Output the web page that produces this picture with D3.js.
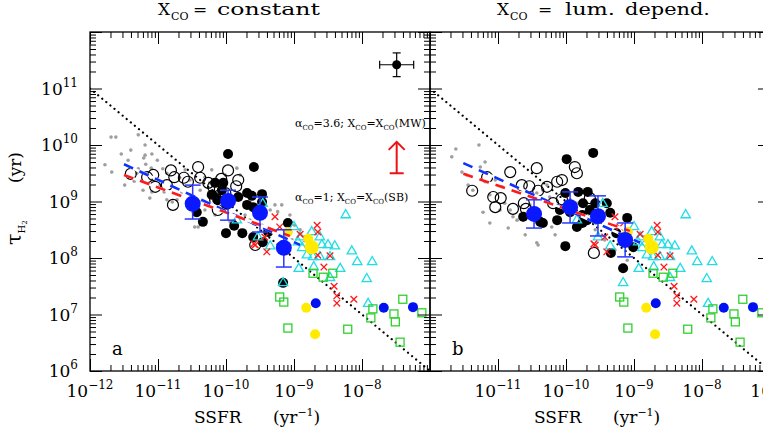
<!DOCTYPE html>
<html lang="en">
<head>
<meta charset="utf-8">
<title>tau H2 vs SSFR</title>
<style>
  body { margin: 0; background: #fff; }
  svg { display: block; font-family: "DejaVu Serif", "Liberation Serif", serif; }
  .tick line { stroke: #000; stroke-width: 1px; }
</style>
</head>
<body>
<script src="https://cdnjs.cloudflare.com/ajax/libs/d3/7.8.5/d3.min.js"></script>
<script>
// all values are [log10 SSFR (yr^-1), log10 tau_H2 (yr)]

var xTickExp = [-12, -11, -10, -9, -8, -7];
var yTickExp = [6, 7, 8, 9, 10, 11];

// tau = 0.1 / SSFR
var dottedLine = [[-12, 11.0], [-7, 6.0]];

// --- panel a : X_CO = constant
var grayA = [[-11.69,10.14],[-11.62,10.14],[-11.29,10.18],[-11.40,9.91],[-11.54,9.84],[-11.19,9.82],[-11.21,9.77],
  [-11.09,9.84],[-11.01,9.73],[-11.18,9.66],[-11.35,9.36],[-11.29,9.58],[-10.93,9.58],[-10.87,9.50],[-10.68,9.42],
  [-11.12,9.06],[-11.09,9.17],[-10.91,9.17],[-10.65,9.17],[-10.79,8.99],[-10.72,9.03],[-10.31,9.43],[-10.24,9.33],
  [-10.35,8.99],[-9.84,9.59],[-9.94,8.64],[-9.87,8.58],[-9.47,8.58],[-9.46,8.76],[-9.35,8.85],[-9.28,8.94],
  [-10.46,8.76],[-11.19,10.0],[-11.10,9.59],[-11.31,9.50],[-11.22,9.20],[-10.87,9.03],[-10.46,8.55],[-10.41,8.55],
  [-9.79,9.47],[-10.16,8.76],[-10.09,8.85],[-9.72,8.76],[-9.65,8.67],[-9.57,8.85],[-9.24,8.82],[-9.18,8.94],
  [-9.06,8.76],[-8.99,8.58],[-8.91,8.50],[-11.78,9.65],[-11.68,9.52],[-11.49,9.29],[-11.44,9.73],[-10.97,9.29],
  [-10.60,9.56],[-10.53,9.38],[-10.38,9.20],[-10.21,9.56],[-10.01,9.47],[-10.31,8.85],[-9.13,8.39],[-9.03,8.32],
  [-9.06,8.23]];
var openA = [[-11.40,9.49],[-11.16,9.43],[-11.07,9.47],[-11.04,9.26],[-10.87,9.29],[-10.81,9.55],[-10.76,9.43],
  [-10.62,9.42],[-10.56,9.35],[-10.41,9.61],[-10.38,9.42],[-10.26,9.33],[-10.19,9.26],[-10.07,9.40],[-10.09,9.22],
  [-9.82,9.38],[-9.85,9.27],[-10.78,8.94],[-10.12,8.85],[-10.16,9.03],[-10.01,9.15],[-9.97,9.55],
  [-9.57,8.23]];
var filledA = [[-9.97,9.84],[-9.59,9.61],[-10.16,9.33],[-10.04,9.33],[-10.21,9.12],[-10.13,9.03],[-10.06,9.20],
  [-9.94,9.03],[-9.82,9.08],[-9.69,9.15],[-9.62,9.10],[-9.47,9.13],[-9.69,8.94],[-9.60,8.90],[-9.47,8.99],
  [-9.99,8.94],[-10.43,8.81],[-10.34,8.64],[-10.00,8.44],[-9.88,8.57],[-9.76,8.44],[-9.60,8.37],[-9.38,8.46],
  [-9.09,8.62],[-9.46,8.28],[-9.16,7.56]];
// binned means: [x, y, yLow, yHigh]
var binsA = [[-10.49,8.96,8.69,9.29],[-9.97,9.01,8.67,9.20],[-9.50,8.80,8.46,9.08],[-9.15,8.18,7.84,8.50]];
var blueFitA = [[-11.5,9.66],[-8.91,8.23]];
var redFitA = [[-11.5,9.47],[-9.06,8.39]];

// --- panel b : X_CO luminosity dependent
var grayB = [[-11.68,9.79],[-11.62,9.93],[-11.28,10.00],[-11.19,9.70],[-11.26,9.61],[-11.53,9.52],[-11.46,9.47],
  [-11.19,9.35],[-11.04,9.38],[-10.94,9.26],[-11.22,8.81],[-11.12,8.62],[-10.90,8.97],[-10.82,8.85],[-10.78,8.73],
  [-10.72,8.67],[-10.85,8.53],[-10.63,8.67],[-10.43,8.27],[-10.41,8.23],[-10.43,9.15],[-10.34,9.20],[-10.28,9.29],
  [-10.24,9.08],[-10.21,8.55],[-10.13,8.67],[-9.94,9.03],[-9.84,8.97],[-9.10,7.96],[-9.28,8.14],[-11.44,9.29],
  [-11.37,9.20],[-11.12,9.12],[-10.53,8.94],[-10.16,8.41],[-10.01,8.85],[-9.72,8.58],[-9.57,8.50],[-9.43,8.32],
  [-9.21,8.41],[-10.60,8.41],[-10.97,8.85]];
var openB = [[-11.38,9.19],[-11.16,9.43],[-11.07,9.08],[-10.96,9.06],[-11.04,8.90],[-10.82,9.52],[-10.65,9.29],
  [-10.78,8.87],[-10.62,8.97],[-10.54,9.27],[-10.43,9.59],[-10.41,9.19],[-10.28,9.26],[-10.13,9.35],[-10.06,9.38],
  [-9.87,9.61],[-9.84,9.50],[-10.19,8.97],[-10.06,9.04],[-9.59,8.09],[-9.65,9.06],[-10.59,8.87]];
var filledB = [[-9.99,9.75],[-9.60,9.86],[-10.63,8.73],[-10.34,8.62],[-10.01,8.21],[-9.82,9.17],[-9.68,9.17],
  [-9.94,8.81],[-9.84,8.55],[-9.69,8.67],[-9.65,8.85],[-10.09,8.85],[-10.13,8.67],[-10.01,9.15],[-9.76,8.76],
  [-9.57,8.97],[-9.75,8.97],[-9.76,8.62],[-9.53,8.67],[-9.40,8.97],[-9.35,8.80],[-9.10,8.71],[-9.26,8.44],
  [-9.34,8.09],[-9.01,8.19],[-9.16,7.82],[-10.38,8.64]];
var binsB = [[-10.47,8.78,8.53,9.03],[-9.94,8.90,8.62,9.17],[-9.53,8.74,8.39,9.10],[-9.13,8.32,8.02,8.62]];
var blueFitB = [[-11.51,9.68],[-8.91,8.27]];
var redFitB = [[-11.51,9.49],[-9.06,8.48]];

// --- high-SSFR samples (same in both panels)
var cyanTri = [[-9.46,8.96],[-8.24,8.76],[-8.74,8.46],[-8.62,8.37],[-8.50,8.23],[-8.40,8.21],[-8.59,8.23],
  [-8.91,8.37],[-8.94,8.28],[-8.88,8.18],[-8.81,8.05],[-8.72,8.02],[-8.62,8.02],[-8.47,8.02],[-8.15,8.12],
  [-8.07,7.93],[-7.85,7.93],[-7.93,7.63],[-8.93,7.81],[-8.71,7.84],[-8.32,7.81],[-8.47,7.65],[-9.16,7.56],
  [-7.91,7.19],[-9.35,8.21],[-9.84,8.67],[-9.53,8.37],[-9.00,8.55]];
var redCross = [[-9.28,8.73],[-9.21,8.55],[-8.91,8.42],[-8.66,8.58],[-8.65,8.46],[-8.81,8.34],[-8.65,8.05],
  [-8.47,8.04],[-8.56,7.84],[-8.41,7.50],[-8.37,7.33],[-8.37,7.20],[-8.12,7.27],[-9.59,8.25],[-9.40,8.11],
  [-9.43,8.37],[-9.57,8.23]];
var greenSq = [[-9.21,7.31],[-9.15,7.22],[-9.09,6.76],[-8.72,7.73],[-8.57,7.66],[-8.43,7.73],[-8.21,6.74],
  [-7.84,7.10],[-7.87,6.94],[-7.40,7.27],[-7.53,7.01],[-7.51,6.87],[-7.44,6.51],[-7.12,7.03]];
var yellowPts = [[-9.09,8.46],[-8.79,8.34],[-8.74,8.19],[-8.82,7.12],[-8.69,6.65]];
var yellowSize = [5, 5, 7, 5, 5];
var blueSmall = [[-8.68,7.20],[-7.68,7.12],[-7.25,7.13]];

// typical error bar: [x, y, dx, dy]
var refPoint = [-7.49, 11.42, 0.25, 0.21];
// alpha_CO arrow: [x, yBase, yTip]
var alphaArrow = [-7.49, 9.50, 10.056];

var W = 763, H = 430, PW = 340;
var svg = d3.select("body").append("svg").attr("width", W).attr("height", H);
var y = d3.scaleLog().domain([1e6, 1e12]).range([371, 32]);
var P = function(v) { return Math.pow(10, v); };

function minors(exps) {
    var out = [];
    exps.forEach(function(e) { for (var k = 2; k <= 9; k++) out.push(k * P(e)); });
    return out;
}

function ticks(axis, scale, vals, size, tr) {
    svg.append("g").attr("transform", tr)
        .call(axis(scale).tickValues(vals).tickSize(size).tickFormat(""))
        .call(function(s) { s.select(".domain").remove(); });
}

function powLabel(t, exp) {
    t.append("tspan").text("10");
    t.append("tspan").attr("dy", -8).attr("font-size", 12).text(exp);
}

function drawPanel(x0, d) {
    var x = d3.scaleLog().domain([1e-12, 1e-7]).range([x0, x0 + PW]);
    var X = function(v) { return x(P(v)); }, Y = function(v) { return y(P(v)); };
    var id = "clip" + x0;
    svg.append("clipPath").attr("id", id).append("rect")
        .attr("x", x0).attr("y", 32).attr("width", PW).attr("height", 339);
    var g = svg.append("g").attr("clip-path", "url(#" + id + ")");
    var line = d3.line().x(function(p) { return X(p[0]); }).y(function(p) { return Y(p[1]); });

    g.append("path").datum(dottedLine).attr("d", line)
        .attr("fill", "none").attr("stroke", "#000").attr("stroke-width", 2.2)
        .attr("stroke-linecap", "round").attr("stroke-dasharray", "0.1 5.2");

    g.append("g").selectAll("circle").data(d.gray).join("circle")
        .attr("cx", p => X(p[0])).attr("cy", p => Y(p[1])).attr("r", 1.8).attr("fill", "#9e9e9e");
    g.append("g").selectAll("circle").data(d.open).join("circle")
        .attr("cx", p => X(p[0])).attr("cy", p => Y(p[1])).attr("r", 5.5)
        .attr("fill", "none").attr("stroke", "#000").attr("stroke-width", 1.2);
    g.append("g").selectAll("circle").data(d.filled).join("circle")
        .attr("cx", p => X(p[0])).attr("cy", p => Y(p[1])).attr("r", 5).attr("fill", "#000");

    var tri = d3.symbol().type(d3.symbolTriangle).size(38);
    g.append("g").selectAll("path").data(cyanTri).join("path")
        .attr("d", tri).attr("transform", p => "translate(" + X(p[0]) + "," + Y(p[1]) + ")")
        .attr("fill", "none").attr("stroke", "#1fdde6").attr("stroke-width", 1.3);
    g.append("g").selectAll("path").data(redCross).join("path")
        .attr("d", "M-3.3,-3.3L3.3,3.3M-3.3,3.3L3.3,-3.3")
        .attr("transform", p => "translate(" + X(p[0]) + "," + Y(p[1]) + ")")
        .attr("stroke", "#ff1a1a").attr("stroke-width", 1.3);
    g.append("g").selectAll("rect").data(greenSq).join("rect")
        .attr("x", p => X(p[0]) - 4).attr("y", p => Y(p[1]) - 4).attr("width", 8).attr("height", 8)
        .attr("fill", "none").attr("stroke", "#2fd02f").attr("stroke-width", 1.3);
    g.append("g").selectAll("circle").data(yellowPts).join("circle")
        .attr("cx", p => X(p[0])).attr("cy", p => Y(p[1])).attr("r", (p, i) => yellowSize[i]).attr("fill", "#ffea00");
    g.append("g").selectAll("circle").data(blueSmall).join("circle")
        .attr("cx", p => X(p[0])).attr("cy", p => Y(p[1])).attr("r", 5).attr("fill", "#0010f0");

    // fits: white under-stroke then dashes
    [[d.blueFit, "#1030ff"], [d.redFit, "#ff1a1a"]].forEach(function(f) {
        g.append("path").datum(f[0]).attr("d", line).attr("fill", "none")
            .attr("stroke", "#fff").attr("stroke-width", 2.6);
        g.append("path").datum(f[0]).attr("d", line).attr("fill", "none")
            .attr("stroke", f[1]).attr("stroke-width", 2.6).attr("stroke-dasharray", "10 7");
    });

    // binned means with error bars
    var bg = g.append("g").attr("stroke", "#2838ff").attr("stroke-width", 1.5);
    d.bins.forEach(function(b) {
        var cx = X(b[0]);
        bg.append("line").attr("x1", cx).attr("x2", cx).attr("y1", Y(b[2])).attr("y2", Y(b[3]));
        [b[2], b[3]].forEach(function(v) {
            bg.append("line").attr("x1", cx - 8).attr("x2", cx + 8).attr("y1", Y(v)).attr("y2", Y(v));
        });
    });
    g.append("g").selectAll("circle").data(d.bins).join("circle")
        .attr("cx", b => X(b[0])).attr("cy", b => Y(b[1])).attr("r", 8).attr("fill", "#0a18ff");

    // frame and ticks
    svg.append("rect").attr("x", x0).attr("y", 32).attr("width", PW).attr("height", 339)
        .attr("fill", "none").attr("stroke", "#000").attr("stroke-width", 1.3);
    var xMaj = xTickExp.map(P), xMin = minors(xTickExp.slice(0, 5));
    var yMaj = yTickExp.map(P).concat([1e12]), yMin = minors(yTickExp);
    ticks(d3.axisBottom, x, xMaj, -12, "translate(0,371)");
    ticks(d3.axisBottom, x, xMin, -6, "translate(0,371)");
    ticks(d3.axisTop, x, xMaj, -12, "translate(0,32)");
    ticks(d3.axisTop, x, xMin, -6, "translate(0,32)");
    ticks(d3.axisLeft, y, yMaj, -12, "translate(" + x0 + ",0)");
    ticks(d3.axisLeft, y, yMin, -6, "translate(" + x0 + ",0)");
    ticks(d3.axisRight, y, yMaj, -12, "translate(" + (x0 + PW) + ",0)");
    ticks(d3.axisRight, y, yMin, -6, "translate(" + (x0 + PW) + ",0)");

    // x tick labels
    d.xLabels.forEach(function(e) {
        var t = svg.append("text").attr("x", X(e)).attr("y", 397).attr("font-size", 17)
            .attr("text-anchor", "middle");
        powLabel(t, String(e).replace("-", "\u2212"));
    });

    // x axis title
    svg.append("text").attr("x", x0 + 104).attr("y", 423).attr("font-size", 17).text("SSFR");
    var xt = svg.append("text").attr("x", x0 + 183).attr("y", 423).attr("font-size", 17);
    xt.append("tspan").text("(yr");
    xt.append("tspan").attr("dy", -7).attr("font-size", 11).text("\u22121");
    xt.append("tspan").attr("dy", 7).text(")");

    // panel letter
    svg.append("text").attr("x", x0 + 22).attr("y", 355).attr("font-size", 18).text(d.letter);

    // title
    var tt = svg.append("text").attr("y", 15).attr("font-size", 17);
    tt.append("tspan").attr("x", d.title[0]).text("X");
    tt.append("tspan").attr("x", d.title[0] + 13).attr("dy", 5).attr("font-size", 11).text("CO");
    tt.append("tspan").attr("x", d.title[1]).attr("dy", -5).text("=");
    d.title[2].forEach(function(w) {
        svg.append("text").attr("x", w[0]).attr("y", 15).attr("font-size", 17)
            .attr("textLength", w[2]).attr("lengthAdjust", "spacingAndGlyphs").text(w[1]);
    });
    return { X: X, Y: Y };
}

var pa = drawPanel(90, {
    gray: grayA, open: openA, filled: filledA, bins: binsA, blueFit: blueFitA, redFit: redFitA,
    xLabels: [-12, -11, -10, -9, -8], letter: "a",
    title: [158, 193, [[217, "constant", 103]]]
});
drawPanel(430, {
    gray: grayB, open: openB, filled: filledB, bins: binsB, blueFit: blueFitB, redFit: redFitB,
    xLabels: [-11, -10, -9, -8, -7], letter: "b",
    title: [497, 538, [[565, "lum.", 50], [625, "depend.", 85]]]
});

// y tick labels
yTickExp.forEach(function(e) {
    var t = svg.append("text").attr("x", 78).attr("y", y(P(e)) + 6).attr("font-size", 17)
        .attr("text-anchor", "end");
    powLabel(t, String(e));
});

// y axis title
var yt = svg.append("text").attr("transform", "translate(21,245) rotate(-90)").attr("font-size", 17);
yt.append("tspan").attr("font-size", 21).text("\u03c4");
yt.append("tspan").attr("dy", 4).attr("font-size", 10).text("H");
yt.append("tspan").attr("dy", 2).attr("font-size", 7).text("2");
yt.append("tspan").attr("x", 62).attr("dy", -6).text("(yr)");

// reference error bar (panel a)
var rp = svg.append("g").attr("stroke", "#000").attr("stroke-width", 1.2);
var rx = pa.X(refPoint[0]), ry = pa.Y(refPoint[1]);
var rx1 = pa.X(refPoint[0] - refPoint[2]), rx2 = pa.X(refPoint[0] + refPoint[2]);
var ry1 = pa.Y(refPoint[1] + refPoint[3]), ry2 = pa.Y(refPoint[1] - refPoint[3]);
rp.append("line").attr("x1", rx1).attr("x2", rx2).attr("y1", ry).attr("y2", ry);
rp.append("line").attr("x1", rx).attr("x2", rx).attr("y1", ry1).attr("y2", ry2);
rp.append("line").attr("x1", rx1).attr("x2", rx1).attr("y1", ry - 4).attr("y2", ry + 4);
rp.append("line").attr("x1", rx2).attr("x2", rx2).attr("y1", ry - 4).attr("y2", ry + 4);
rp.append("line").attr("x1", rx - 4).attr("x2", rx + 4).attr("y1", ry1).attr("y2", ry1);
rp.append("line").attr("x1", rx - 4).attr("x2", rx + 4).attr("y1", ry2).attr("y2", ry2);
svg.append("circle").attr("cx", rx).attr("cy", ry).attr("r", 4.5).attr("fill", "#000");

// alpha_CO arrow
var ax = pa.X(alphaArrow[0]), ab = pa.Y(alphaArrow[1]), at = pa.Y(alphaArrow[2]);
var ag = svg.append("g").attr("stroke", "#ee1111").attr("stroke-width", 2).attr("fill", "none");
ag.append("line").attr("x1", ax).attr("x2", ax).attr("y1", ab).attr("y2", at);
ag.append("line").attr("x1", ax - 7).attr("x2", ax + 7).attr("y1", ab).attr("y2", ab);
ag.append("path").attr("d", "M" + (ax - 8) + "," + (at + 8) + "L" + ax + "," + at + "L" + (ax + 8) + "," + (at + 8));

// annotations
function coNote(xp, yp, parts) {
    var t = svg.append("text").attr("x", xp).attr("y", yp).attr("font-size", 11);
    parts.forEach(function(p, i) {
        if (i % 2 === 1) t.append("tspan").attr("dy", 3).attr("font-size", 7).text(p);
        else t.append("tspan").attr("dy", i === 0 ? 0 : -3).text(p);
    });
}
coNote(295, 127, ["\u03b1", "CO", "=3.6; X", "CO", "=X", "CO", "(MW)"]);
coNote(295, 201, ["\u03b1", "CO", "=1; X", "CO", "=X", "CO", "(SB)"]);
</script>
</body>
</html>
